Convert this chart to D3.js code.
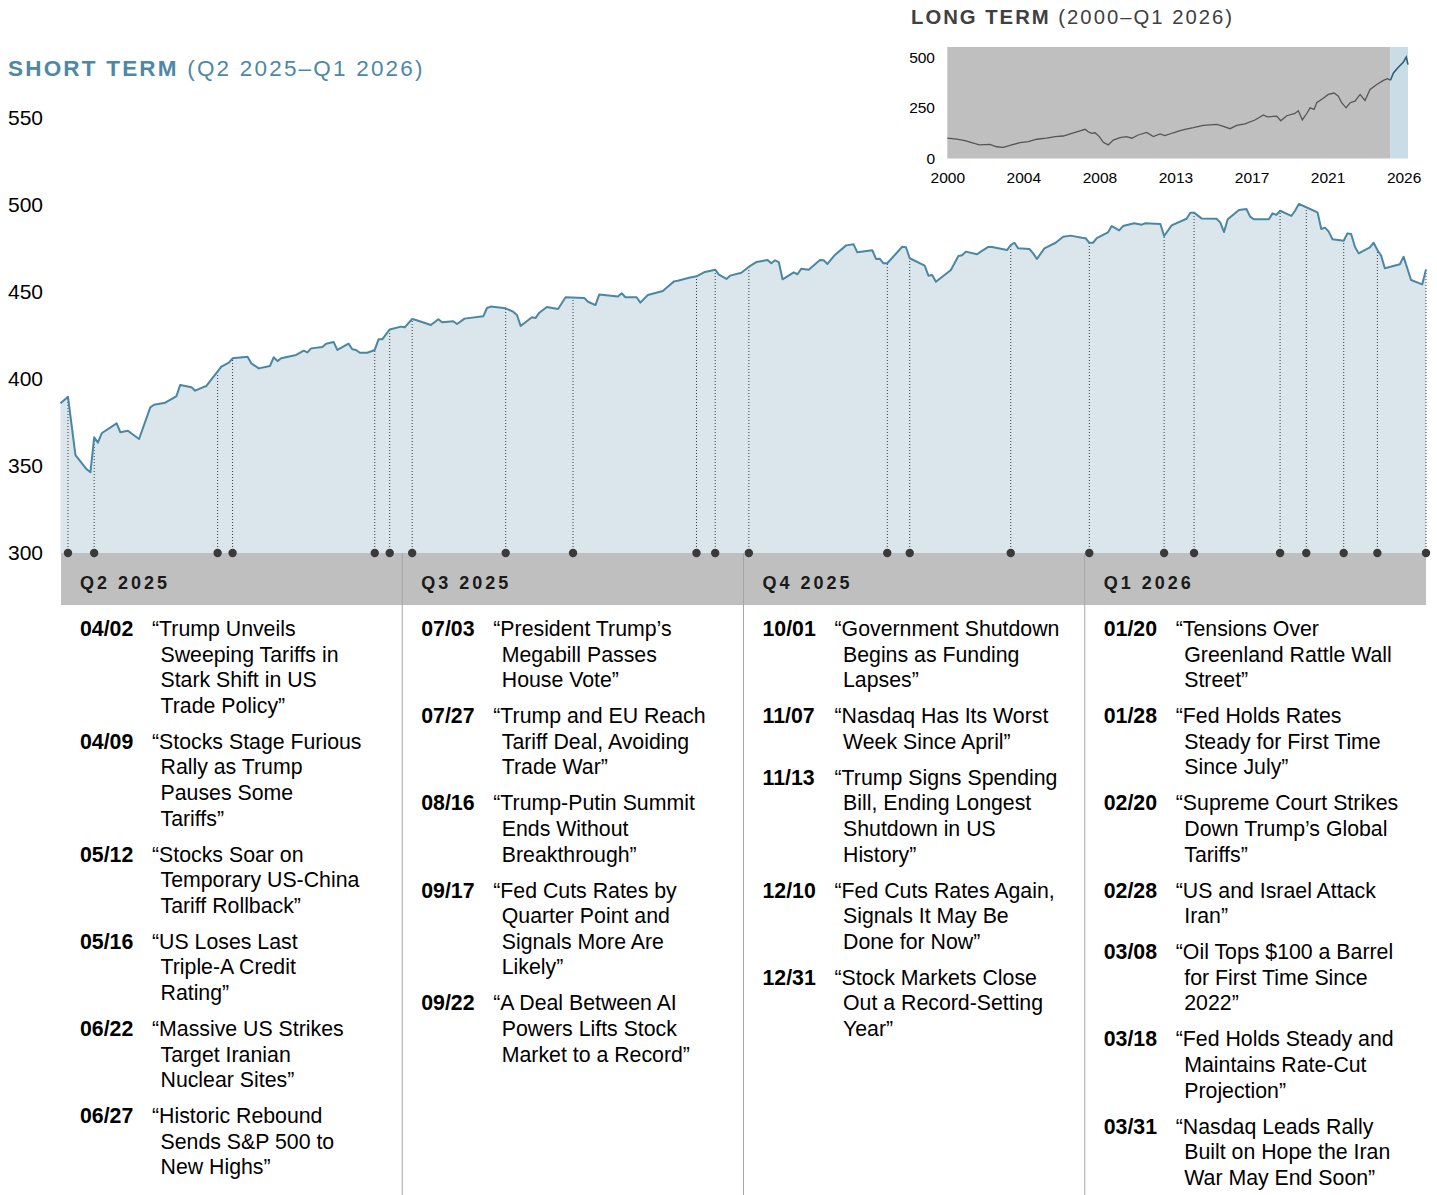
<!DOCTYPE html>
<html>
<head>
<meta charset="utf-8">
<script src="https://cdn.jsdelivr.net/npm/d3@7"></script>
<style>
  body { margin: 0; background: #fff; }
  svg { display: block; font-family: Arial, "Liberation Sans", sans-serif; }
</style>
</head>
<body>
<div id="chart"></div>
<script>
// short term series (Q2 2025 - Q1 2026)
const shortDates = [
  "2025-03-31","2025-04-02","2025-04-04","2025-04-07","2025-04-08","2025-04-09","2025-04-10","2025-04-11",
  "2025-04-15","2025-04-16","2025-04-18","2025-04-21","2025-04-24","2025-04-25","2025-04-28","2025-04-30",
  "2025-05-01","2025-05-02","2025-05-05","2025-05-06","2025-05-08","2025-05-09","2025-05-13","2025-05-15",
  "2025-05-16","2025-05-20","2025-05-21","2025-05-23","2025-05-26","2025-05-27","2025-05-28","2025-05-29",
  "2025-06-02","2025-06-04","2025-06-05","2025-06-06","2025-06-09","2025-06-10","2025-06-12","2025-06-13",
  "2025-06-16","2025-06-17","2025-06-18","2025-06-19","2025-06-21","2025-06-23","2025-06-24","2025-06-25",
  "2025-06-27","2025-06-30","2025-07-01","2025-07-03","2025-07-04","2025-07-08","2025-07-10","2025-07-11",
  "2025-07-14","2025-07-15","2025-07-17","2025-07-22","2025-07-23","2025-07-24","2025-07-28","2025-07-30",
  "2025-07-31","2025-08-01","2025-08-04","2025-08-05","2025-08-06","2025-08-08","2025-08-11","2025-08-13",
  "2025-08-18","2025-08-19","2025-08-21","2025-08-22","2025-08-27","2025-08-28","2025-08-29","2025-09-01",
  "2025-09-02","2025-09-04","2025-09-08","2025-09-09","2025-09-11","2025-09-12","2025-09-15","2025-09-17",
  "2025-09-19","2025-09-22","2025-09-23","2025-09-25","2025-09-26","2025-09-29","2025-10-01","2025-10-02",
  "2025-10-03","2025-10-06","2025-10-07","2025-10-08","2025-10-09","2025-10-10","2025-10-13","2025-10-14",
  "2025-10-15","2025-10-17","2025-10-20","2025-10-21","2025-10-22","2025-10-24","2025-10-27","2025-10-29",
  "2025-10-30","2025-11-03","2025-11-04","2025-11-05","2025-11-06","2025-11-07","2025-11-11","2025-11-12",
  "2025-11-13","2025-11-17","2025-11-18","2025-11-19","2025-11-20","2025-11-24","2025-11-26","2025-11-27",
  "2025-11-28","2025-12-01","2025-12-02","2025-12-04","2025-12-05","2025-12-09","2025-12-10","2025-12-11",
  "2025-12-12","2025-12-15","2025-12-16","2025-12-17","2025-12-19","2025-12-22","2025-12-24","2025-12-26",
  "2025-12-29","2025-12-30","2025-12-31","2026-01-01","2026-01-02","2026-01-05","2026-01-06","2026-01-08",
  "2026-01-09","2026-01-12","2026-01-13","2026-01-14","2026-01-15","2026-01-19","2026-01-20","2026-01-22",
  "2026-01-26","2026-01-27","2026-01-28","2026-01-30","2026-02-03","2026-02-04","2026-02-05","2026-02-06",
  "2026-02-09","2026-02-11","2026-02-12","2026-02-13","2026-02-17","2026-02-18","2026-02-19","2026-02-20",
  "2026-02-23","2026-02-24","2026-02-25","2026-02-27","2026-03-02","2026-03-03","2026-03-04","2026-03-05",
  "2026-03-06","2026-03-09","2026-03-10","2026-03-11","2026-03-12","2026-03-13","2026-03-16","2026-03-17",
  "2026-03-18","2026-03-19","2026-03-20","2026-03-24","2026-03-25","2026-03-27","2026-03-30","2026-03-31"
];
const shortValues = [
  386.0, 389.8, 356.3, 348.1, 346.4, 366.5, 363.4, 368.8,
  374.5, 369.4, 370.3, 365.5, 383.7, 385.2, 386.4, 388.9,
  390.2, 396.6, 395.2, 393.3, 395.2, 396.0, 407.1, 409.4,
  411.9, 412.8, 409.0, 406.1, 407.5, 412.5, 410.3, 411.9,
  413.8, 416.3, 415.3, 417.6, 418.4, 420.3, 421.3, 416.7,
  420.3, 417.1, 416.7, 415.1, 415.1, 416.7, 422.8, 422.8,
  428.5, 430.1, 429.7, 434.5, 433.9, 431.0, 434.3, 432.6,
  433.2, 431.6, 434.7, 436.0, 440.8, 441.6, 440.6, 438.7,
  436.8, 430.5, 435.5, 435.1, 438.1, 441.4, 440.2, 447.0,
  446.6, 444.4, 442.5, 448.5, 447.4, 449.3, 447.0, 447.0,
  443.9, 448.3, 450.6, 452.5, 456.1, 456.5, 458.2, 459.0,
  461.3, 462.8, 460.0, 457.5, 459.4, 461.1, 464.5, 465.9,
  467.2, 468.4, 466.5, 468.2, 467.2, 457.3, 461.3, 460.2,
  463.4, 462.8, 468.4, 468.2, 466.1, 471.3, 476.8, 477.4,
  472.8, 474.0, 469.0, 469.1, 466.5, 466.5, 476.0, 475.7,
  469.4, 465.1, 459.4, 459.8, 455.9, 462.6, 470.7, 471.1,
  473.2, 471.7, 473.2, 475.9, 475.9, 474.1, 477.0, 478.3,
  475.1, 474.7, 472.2, 469.0, 475.1, 478.3, 481.8, 482.4,
  481.2, 480.9, 478.3, 478.3, 480.9, 484.3, 487.9, 485.4,
  487.9, 489.5, 489.1, 488.7, 489.5, 489.1, 482.2, 488.3,
  492.1, 495.6, 495.6, 492.3, 492.1, 490.0, 484.5, 491.8,
  497.1, 497.7, 493.3, 491.8, 491.8, 495.2, 494.3, 496.7,
  493.7, 496.7, 500.6, 498.7, 495.8, 486.2, 487.0, 484.7,
  480.3, 479.5, 483.7, 483.3, 476.0, 472.2, 475.7, 478.3,
  474.1, 470.9, 463.6, 465.9, 470.3, 456.9, 454.4, 463.0
];
const yTicks = [300, 350, 400, 450, 500, 550];
const quarters = ["Q2 2025", "Q3 2025", "Q4 2025", "Q1 2026"];

// events: label, date where it is plotted, quarter column, headline lines
const eventLabels = [
  "04/02","04/09","05/12","05/16","06/22","06/27",
  "07/03","07/27","08/16","09/17","09/22",
  "10/01","11/07","11/13","12/10","12/31",
  "01/20","01/28","02/20","02/28","03/08","03/18","03/31"
];
const eventDates = [
  "2025-04-02","2025-04-09","2025-05-12","2025-05-16","2025-06-23","2025-06-27",
  "2025-07-03","2025-07-28","2025-08-15","2025-09-17","2025-09-22",
  "2025-10-01","2025-11-07","2025-11-13","2025-12-10","2025-12-31",
  "2026-01-20","2026-01-28","2026-02-20","2026-02-27","2026-03-09","2026-03-18","2026-03-31"
];
const eventQuarter = [0,0,0,0,0,0, 1,1,1,1,1, 2,2,2,2,2, 3,3,3,3,3,3,3];
const eventHeadlines = [
  "\u201CTrump Unveils|Sweeping Tariffs in|Stark Shift in US|Trade Policy\u201D",
  "\u201CStocks Stage Furious|Rally as Trump|Pauses Some|Tariffs\u201D",
  "\u201CStocks Soar on|Temporary US-China|Tariff Rollback\u201D",
  "\u201CUS Loses Last|Triple-A Credit|Rating\u201D",
  "\u201CMassive US Strikes|Target Iranian|Nuclear Sites\u201D",
  "\u201CHistoric Rebound|Sends S&P 500 to|New Highs\u201D",
  "\u201CPresident Trump\u2019s|Megabill Passes|House Vote\u201D",
  "\u201CTrump and EU Reach|Tariff Deal, Avoiding|Trade War\u201D",
  "\u201CTrump-Putin Summit|Ends Without|Breakthrough\u201D",
  "\u201CFed Cuts Rates by|Quarter Point and|Signals More Are|Likely\u201D",
  "\u201CA Deal Between AI|Powers Lifts Stock|Market to a Record\u201D",
  "\u201CGovernment Shutdown|Begins as Funding|Lapses\u201D",
  "\u201CNasdaq Has Its Worst|Week Since April\u201D",
  "\u201CTrump Signs Spending|Bill, Ending Longest|Shutdown in US|History\u201D",
  "\u201CFed Cuts Rates Again,|Signals It May Be|Done for Now\u201D",
  "\u201CStock Markets Close|Out a Record-Setting|Year\u201D",
  "\u201CTensions Over|Greenland Rattle Wall|Street\u201D",
  "\u201CFed Holds Rates|Steady for First Time|Since July\u201D",
  "\u201CSupreme Court Strikes|Down Trump\u2019s Global|Tariffs\u201D",
  "\u201CUS and Israel Attack|Iran\u201D",
  "\u201COil Tops $100 a Barrel|for First Time Since|2022\u201D",
  "\u201CFed Holds Steady and|Maintains Rate-Cut|Projection\u201D",
  "\u201CNasdaq Leads Rally|Built on Hope the Iran|War May End Soon\u201D"
];

// long term series (2000 - Q1 2026), decimal years
const longYears = [
  2000.00, 2000.54, 2001.01, 2001.39, 2001.82, 2002.43, 2002.81, 2003.19, 2003.67, 2004.14,
  2004.62, 2005.09, 2005.66, 2006.14, 2006.61, 2007.09, 2007.56, 2007.85, 2008.03, 2008.23,
  2008.42, 2008.66, 2008.89, 2009.17, 2009.46, 2009.84, 2010.22, 2010.51, 2010.88, 2011.36,
  2011.74, 2012.12, 2012.40, 2012.88, 2013.22, 2013.54, 2014.02, 2014.59, 2015.35, 2015.73,
  2016.11, 2016.49, 2016.96, 2017.53, 2018.01, 2018.23, 2018.77, 2019.00, 2019.34, 2019.81,
  2020.00, 2020.23, 2020.48, 2020.67, 2020.90, 2021.05, 2021.42, 2021.71, 2022.04, 2022.28,
  2022.47, 2022.72, 2022.95, 2023.23, 2023.52, 2023.80, 2024.09, 2024.47, 2024.85, 2025.08,
  2025.25, 2025.42, 2025.70, 2025.98, 2026.15, 2026.25
];
const longValues = [
  100, 96, 88, 78, 67, 70, 58, 55, 67, 78,
  83, 95, 100, 108, 111, 124, 136, 144, 132, 124,
  127, 108, 80, 67, 91, 103, 108, 100, 116, 129,
  108, 121, 113, 127, 136, 144, 152, 163, 168, 158,
  147, 163, 171, 190, 215, 205, 209, 186, 211, 222,
  235, 190, 222, 250, 242, 275, 297, 316, 323, 307,
  275, 250, 275, 283, 316, 286, 341, 365, 385, 394,
  386, 422, 450, 475, 500, 463
];
const longTickLabels = ["2000", "2004", "2008", "2013", "2017", "2021", "2026"];
const longYTicks = [0, 250, 500];
const shortTermStartYear = 2025.25;

const W = 1437, H = 1195;
const svg = d3.select("#chart").append("svg").attr("width", W).attr("height", H);

const parse = d3.timeParse("%Y-%m-%d");
const series = shortDates.map((d, i) => ({ date: parse(d), value: shortValues[i] }));

const x = d3.scaleTime()
  .domain([parse("2025-03-31"), parse("2026-03-31")])
  .range([60.5, 1426]);
const y = d3.scaleLinear().domain([300, 550]).range([553, 118]);
const qBand = d3.scaleBand().domain(quarters).range([61, 1426]);

// titles
svg.append("text")
  .attr("x", 8).attr("y", 76)
  .attr("fill", "#4e88a5").attr("font-size", "22.5px").style("letter-spacing", "2.2px")
  .call((t) => {
    t.append("tspan").attr("font-weight", "bold").text("SHORT TERM");
    t.append("tspan").text(" (Q2 2025\u2013Q1 2026)");
  });

svg.append("text")
  .attr("x", 911).attr("y", 24)
  .attr("fill", "#404040").attr("font-size", "20.3px").style("letter-spacing", "2px")
  .call((t) => {
    t.append("tspan").attr("font-weight", "bold").text("LONG TERM");
    t.append("tspan").text(" (2000\u2013Q1 2026)");
  });

// area + line
const area = d3.area().x((d) => x(d.date)).y0(y(300)).y1((d) => y(d.value));
const line = d3.line().x((d) => x(d.date)).y((d) => y(d.value));

svg.append("path").datum(series).attr("d", area).attr("fill", "#dae6ec");

// y axis labels
svg.append("g")
  .call(d3.axisLeft(y).tickValues(yTicks).tickSize(0))
  .call((g) => g.select(".domain").remove())
  .call((g) => g.selectAll("text")
    .attr("x", 8).attr("text-anchor", "start")
    .attr("font-size", "21px").attr("font-family", "Arial, 'Liberation Sans', sans-serif")
    .attr("fill", "#000"));

// value on the line at an event date
const bis = d3.bisector((d) => d.date).left;
function valueAt(date) {
  const i = bis(series, date);
  if (i <= 0) return series[0].value;
  if (i >= series.length) return series[series.length - 1].value;
  const a = series[i - 1], b = series[i];
  const t = (date - a.date) / (b.date - a.date);
  return a.value + t * (b.value - a.value);
}

const events = eventLabels.map((lab, i) => ({
  label: lab,
  date: parse(eventDates[i]),
  q: eventQuarter[i],
  lines: eventHeadlines[i].split("|"),
}));

svg.append("g").selectAll("line").data(events).enter().append("line")
  .attr("x1", (d) => x(d.date)).attr("x2", (d) => x(d.date))
  .attr("y1", y(300)).attr("y2", (d) => y(valueAt(d.date)))
  .attr("stroke", "#3a3a3a").attr("stroke-width", 1)
  .attr("stroke-dasharray", "1,2");

svg.append("path").datum(series).attr("d", line)
  .attr("fill", "none").attr("stroke", "#4a87a3").attr("stroke-width", 2)
  .attr("stroke-linejoin", "round");

// quarter band
svg.append("rect")
  .attr("x", qBand.range()[0]).attr("y", 553)
  .attr("width", qBand.range()[1] - qBand.range()[0]).attr("height", 52)
  .attr("fill", "#bfbfbf");

svg.append("g").selectAll("line").data(quarters.slice(1)).enter().append("line")
  .attr("x1", (d) => qBand(d)).attr("x2", (d) => qBand(d))
  .attr("y1", 553).attr("y2", H)
  .attr("stroke", "#a6a6a6").attr("stroke-width", 1);

svg.append("g").selectAll("text").data(quarters).enter().append("text")
  .attr("x", (d) => qBand(d) + 19).attr("y", 589)
  .attr("font-size", "18px").attr("font-weight", "bold")
  .style("letter-spacing", "3px").attr("fill", "#1a1a1a")
  .text((d) => d);

// event dots
svg.append("g").selectAll("circle").data(events).enter().append("circle")
  .attr("cx", (d) => x(d.date)).attr("cy", y(300)).attr("r", 4.2)
  .attr("fill", "#3a3a3a");

// event text columns
const lineH = 25.6, gap = 10.4, fs = "21.3px";
quarters.forEach((q, qi) => {
  const qx = qBand(q);
  let yc = 636;
  events.filter((e) => e.q === qi).forEach((e) => {
    svg.append("text")
      .attr("x", qx + 19).attr("y", yc)
      .attr("font-size", fs).attr("font-weight", "bold").attr("fill", "#000")
      .text(e.label);
    const t = svg.append("text").attr("font-size", fs).attr("fill", "#000");
    e.lines.forEach((ln, li) => {
      t.append("tspan")
        .attr("x", li === 0 ? qx + 91 : qx + 99.5)
        .attr("y", yc + li * lineH)
        .text(ln);
    });
    yc += e.lines.length * lineH + gap;
  });
});

// long term inset
const xL = d3.scaleLinear().domain([2000, 2026.25]).range([947.3, 1408]);
const yL = d3.scaleLinear().domain([0, 550]).range([158.5, 47]);
const longSeries = longYears.map((yr, i) => ({ yr: yr, value: longValues[i] }));

svg.append("rect")
  .attr("x", xL(2000)).attr("y", yL(550))
  .attr("width", xL(shortTermStartYear) - xL(2000)).attr("height", yL(0) - yL(550))
  .attr("fill", "#bfbfbf");
svg.append("rect")
  .attr("x", xL(shortTermStartYear)).attr("y", yL(550))
  .attr("width", xL(2026.25) - xL(shortTermStartYear)).attr("height", yL(0) - yL(550))
  .attr("fill", "#c8dde6");

const lineL = d3.line().x((d) => xL(d.yr)).y((d) => yL(d.value));
svg.append("path").datum(longSeries.filter((d) => d.yr <= shortTermStartYear))
  .attr("d", lineL).attr("fill", "none").attr("stroke", "#555555").attr("stroke-width", 1.3);
svg.append("path").datum(longSeries.filter((d) => d.yr >= shortTermStartYear))
  .attr("d", lineL).attr("fill", "none").attr("stroke", "#2c5f7c").attr("stroke-width", 1.6);

const xTickScale = d3.scalePoint().domain(longTickLabels).range([xL(2000), xL(2026)]);
svg.append("g")
  .attr("transform", "translate(0,168)")
  .call(d3.axisBottom(xTickScale).tickSize(0).tickPadding(0))
  .call((g) => g.select(".domain").remove())
  .call((g) => g.selectAll("text")
    .attr("font-size", "15.5px").attr("font-family", "Arial, 'Liberation Sans', sans-serif")
    .attr("fill", "#000").attr("dy", "0.95em"));

svg.append("g")
  .attr("transform", "translate(935,0)")
  .call(d3.axisLeft(yL).tickValues(longYTicks).tickSize(0).tickPadding(0))
  .call((g) => g.select(".domain").remove())
  .call((g) => g.selectAll("text")
    .attr("font-size", "15.5px").attr("font-family", "Arial, 'Liberation Sans', sans-serif")
    .attr("fill", "#000"));
</script>
</body>
</html>
